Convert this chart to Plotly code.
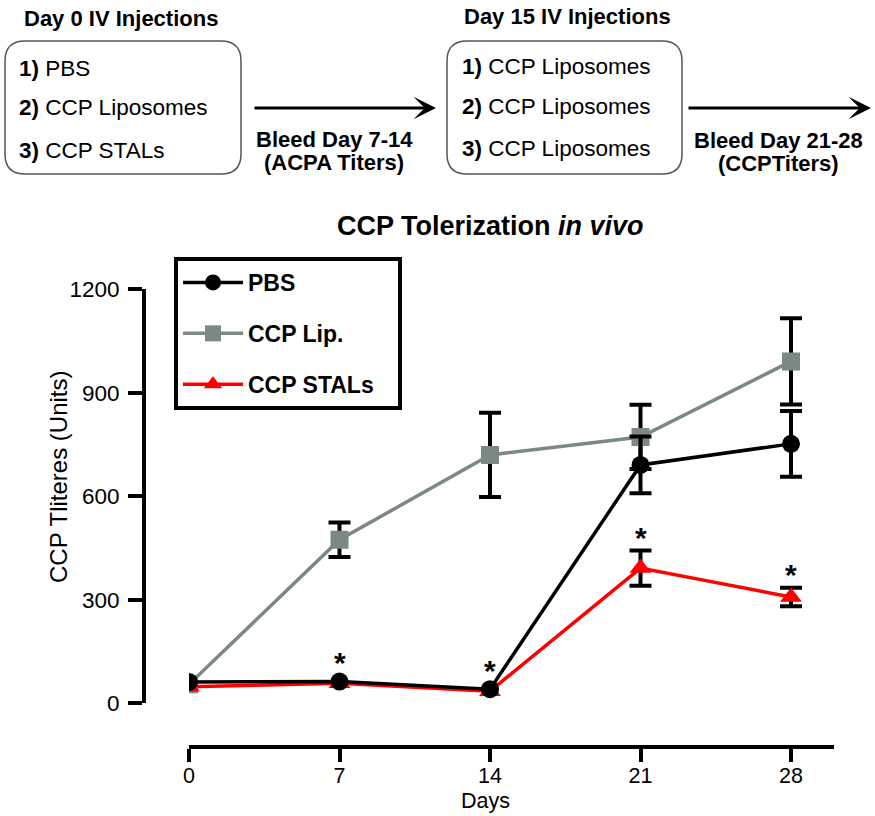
import plotly.graph_objects as go

W, H = 875, 816

# ---------------- data ----------------
days = [0, 7, 14, 21, 28]
pbs = [62, 63, 41, 691, 752]
pbs_err = [0, 0, 0, 82, 95]
lip = [55, 474, 720, 772, 991]
lip_err = [0, 50, 122, 93, 125]
stal = [48, 58, 35, 392, 308]
stal_err = [0, 0, 0, 51, 27]
sig_days = [7, 14, 21, 28]

y_ticks = [0, 300, 600, 900, 1200]
x_ticks = [0, 7, 14, 21, 28]

FONT = "Liberation Sans, Arial, sans-serif"
BLACK = "#000000"
GREY = "#7b8886"
RED = "#ff0000"


def px(x):
    return x / W


def py(y):
    return 1 - y / H


fig = go.Figure()


def err_trace(vals, errs):
    xs = [d for d, e in zip(days, errs) if e > 0]
    ys = [v for v, e in zip(vals, errs) if e > 0]
    es = [e for e in errs if e > 0]
    return go.Scatter(
        x=xs, y=ys, mode="markers",
        marker=dict(size=1, opacity=0),
        error_y=dict(type="data", array=es, color=BLACK, thickness=4, width=11),
        showlegend=False, hoverinfo="skip",
    )


PAD = "\u00a0\u00a0\u00a0"

# CCP Lip.
fig.add_trace(err_trace(lip, lip_err))
fig.add_trace(go.Scatter(
    x=days, y=lip, mode="lines+markers", name="<b>CCP Lip.</b>",
    line=dict(color=GREY, width=3.5),
    marker=dict(symbol="square", size=18, color=GREY),
    legendgroup="lip", legendrank=2,
))
# CCP STALs
fig.add_trace(err_trace(stal, stal_err))
fig.add_trace(go.Scatter(
    x=days, y=stal, mode="lines+markers", name="<b>CCP STALs</b>" + PAD,
    line=dict(color=RED, width=3.5),
    marker=dict(symbol="triangle-up", size=19, color=RED),
    legendgroup="stal", legendrank=3,
))
# PBS
fig.add_trace(err_trace(pbs, pbs_err))
fig.add_trace(go.Scatter(
    x=days, y=pbs, mode="lines+markers", name="<b>PBS</b>",
    line=dict(color=BLACK, width=3.5),
    marker=dict(symbol="circle", size=18, color=BLACK),
    legendgroup="pbs", legendrank=1,
))

annotations = []

# significance stars
for d in sig_days:
    i = days.index(d)
    top = stal[i] + stal_err[i]
    annotations.append(dict(
        x=d, y=top, xref="x", yref="y", text="<b>*</b>", showarrow=False,
        font=dict(size=30, family=FONT, color=BLACK),
        yanchor="middle", yshift=(13 if stal_err[i] > 0 else 21),
    ))

# titles
annotations.append(dict(
    x=px(490), y=py(226), xref="paper", yref="paper",
    text="<b>CCP Tolerization <i>in vivo</i></b>", showarrow=False,
    font=dict(size=27, family=FONT, color=BLACK),
    xanchor="center", yanchor="middle",
))
annotations.append(dict(
    x=px(58), y=py(477), xref="paper", yref="paper",
    text="CCP Tliteres (Units)", showarrow=False, textangle=-90,
    font=dict(size=24, family=FONT, color=BLACK),
    xanchor="center", yanchor="middle",
))
annotations.append(dict(
    x=px(485), y=py(801), xref="paper", yref="paper",
    text="Days", showarrow=False,
    font=dict(size=21.5, family=FONT, color=BLACK),
    xanchor="center", yanchor="middle",
))


def text(x, y, s, size=22, anchor="center"):
    annotations.append(dict(
        x=px(x), y=py(y), xref="paper", yref="paper", text=s,
        showarrow=False, font=dict(size=size, family=FONT, color=BLACK),
        xanchor=anchor, yanchor="middle",
    ))


# top schematic
text(121, 18, "<b>Day 0 IV Injections</b>", 22)
text(567, 16, "<b>Day 15 IV Injections</b>", 22)
box1 = ["<b>1)</b> PBS", "<b>2)</b> CCP Liposomes", "<b>3)</b> CCP STALs"]
box2 = ["<b>1)</b> CCP Liposomes", "<b>2)</b> CCP Liposomes", "<b>3)</b> CCP Liposomes"]
for s, yy in zip(box1, [68, 108, 150]):
    text(17, yy, s, 22.5, "left")
for s, yy in zip(box2, [66, 107, 148]):
    text(460, yy, s, 22.5, "left")
text(334, 139, "<b>Bleed Day 7-14</b>", 22)
text(334, 163, "<b>(ACPA Titers)</b>", 22)
text(778, 140, "<b>Bleed Day 21-28</b>", 22)
text(778, 164, "<b>(CCPTiters)</b>", 22)

for x0, x1 in [(253, 436), (687, 871)]:
    annotations.append(dict(
        x=px(x1), y=py(108), xref="paper", yref="paper",
        ax=-(x1 - x0), ay=0, axref="pixel", ayref="pixel",
        text="", showarrow=True, arrowhead=3, arrowsize=1.25,
        arrowwidth=3, arrowcolor=BLACK, standoff=0,
    ))


def rrect(x0, y0, x1, y1, r):
    rx, ry = r / W, r / H
    X0, X1 = px(x0), px(x1)
    Y0, Y1 = py(y0), py(y1)  # Y0 top (larger)
    return (f"M{X0+rx},{Y0} L{X1-rx},{Y0} Q{X1},{Y0} {X1},{Y0-ry} "
            f"L{X1},{Y1+ry} Q{X1},{Y1} {X1-rx},{Y1} L{X0+rx},{Y1} "
            f"Q{X0},{Y1} {X0},{Y1+ry} L{X0},{Y0-ry} Q{X0},{Y0} {X0+rx},{Y0} Z")


shapes = []
for (x0, y0, x1, y1) in [(5, 41, 241, 174), (447, 41, 682, 174)]:
    shapes.append(dict(type="path", path=rrect(x0, y0, x1, y1, 20),
                       xref="paper", yref="paper",
                       line=dict(color="#555555", width=1.5)))

fig.update_layout(
    width=W, height=H,
    margin=dict(l=0, r=0, t=0, b=0, autoexpand=False),
    paper_bgcolor="white", plot_bgcolor="white",
    font=dict(family=FONT, color=BLACK, size=21),
    xaxis=dict(
        domain=[px(189), px(834)], range=[0, 30],
        anchor="free", position=py(746.5), automargin=False,
        showline=True, linecolor=BLACK, linewidth=4,
        ticks="outside", ticklen=13, tickwidth=4, tickcolor=BLACK,
        tickvals=x_ticks, ticktext=[str(v) for v in x_ticks],
        tickfont=dict(size=21.5, family=FONT, color=BLACK),
        ticklabelstandoff=-4,
        showgrid=False, zeroline=False,
    ),
    yaxis=dict(
        domain=[py(703.3), py(289.3)], range=[0, 1200],
        anchor="free", position=px(144), automargin=False,
        showline=True, linecolor=BLACK, linewidth=4,
        ticks="outside", ticklen=14, tickwidth=4, tickcolor=BLACK,
        tickvals=y_ticks, ticktext=[str(v) for v in y_ticks],
        tickfont=dict(size=22.5, family=FONT, color=BLACK),
        ticklabelstandoff=4,
        showgrid=False, zeroline=False,
    ),
    legend=dict(
        x=px(174), y=py(257), xanchor="left", yanchor="top",
        bgcolor="white", bordercolor=BLACK, borderwidth=4,
        font=dict(size=23, family=FONT, color=BLACK),
        tracegroupgap=18, itemwidth=60, traceorder="grouped",
    ),
    annotations=annotations,
    shapes=shapes,
)

fig.write_html("out.html", config={"displayModeBar": False},
               post_script="document.body.style.margin='0px';")
